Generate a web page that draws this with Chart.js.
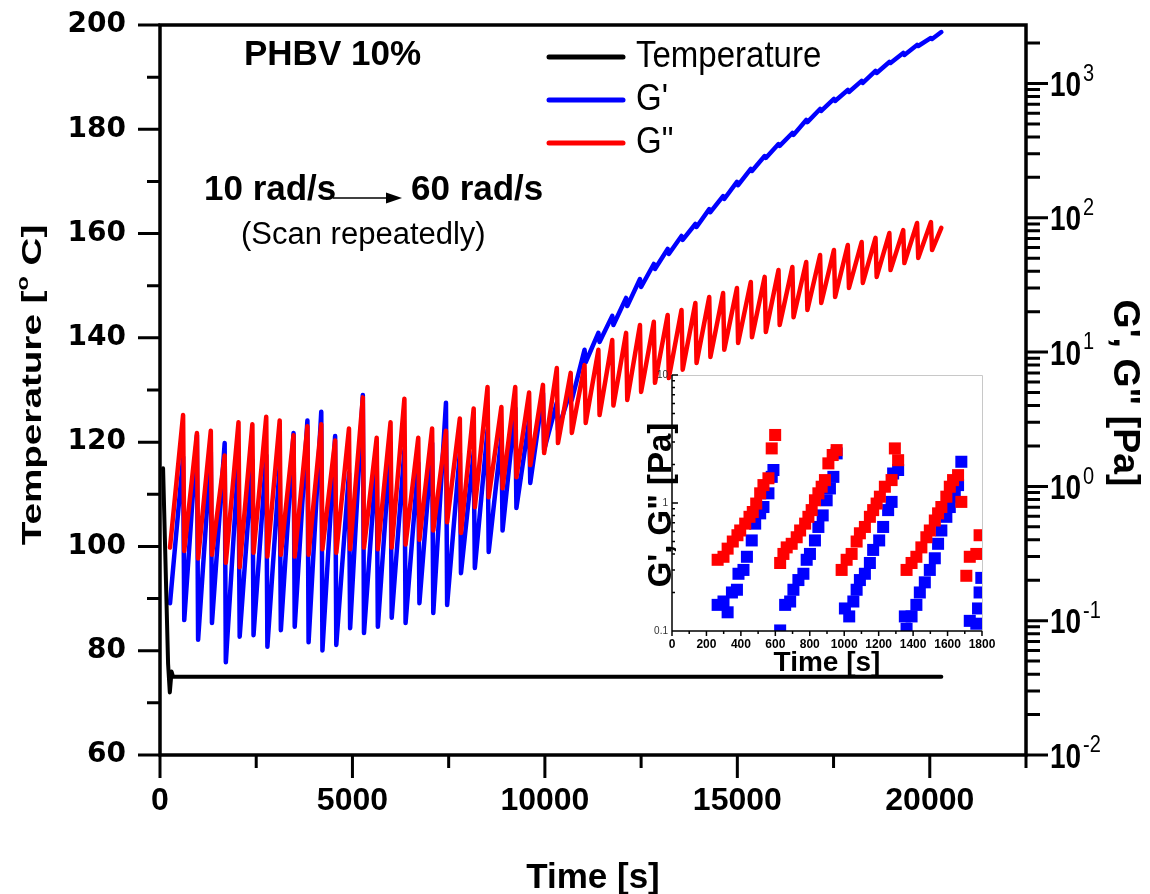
<!DOCTYPE html>
<html>
<head>
<meta charset="utf-8">
<script src="https://cdn.jsdelivr.net/npm/chart.js@4.4.1/dist/chart.umd.min.js"></script>
<style>
  html, body { margin: 0; padding: 0; background: #fff; }
  #wrap { position: relative; width: 1150px; height: 894px; overflow: hidden; }
  #mainChart { position: absolute; left: 0; top: 0; }
  #insetChart { position: absolute; left: 600px; top: 360px; }
</style>
</head>
<body>
<div id="wrap">
  <canvas id="mainChart" width="1150" height="894"></canvas>
  <canvas id="insetChart" width="400" height="330"></canvas>
</div>
<script>
// TEMPERATURE (left axis)
const tempT = [80, 210, 255, 300, 340, 20300];
const tempV = [115, 77.5, 72, 76, 75, 75];

// EACH FREQUENCY SCAN: start time (lowest value) and end time (highest value)
const cycleStart = [260, 630, 990, 1350, 1710, 2070, 2430, 2790, 3140, 3500, 3860, 4220, 4580, 4940, 5300, 5660, 6020, 6380, 6740, 7100,
  7460, 7820, 8180, 8540, 8900, 9260, 9620, 9980, 10340, 10700, 11060, 11420, 11780, 12140, 12500, 12860, 13220, 13580, 13940, 14300,
  14660, 15020, 15380, 15740, 16100, 16460, 16820, 17180, 17540, 17900, 18260, 18620, 18980, 19340, 19700, 20060];
const cycleEnd = [600, 960, 1320, 1680, 2040, 2400, 2760, 3110, 3470, 3830, 4190, 4550, 4910, 5270, 5630, 5990, 6350, 6710, 7070, 7430,
  7790, 8150, 8510, 8870, 9230, 9590, 9950, 10310, 10670, 11030, 11390, 11750, 12110, 12470, 12830, 13190, 13550, 13910, 14270, 14630,
  14990, 15350, 15710, 16070, 16430, 16790, 17150, 17510, 17870, 18230, 18590, 18950, 19310, 19670, 20030, 20300];

// G' (blue)
const gpLow = [0.135, 0.101, 0.072, 0.096, 0.049, 0.076, 0.078, 0.064, 0.085, 0.090, 0.069, 0.060, 0.066, 0.088, 0.081, 0.090, 0.105, 0.096, 0.135, 0.114,
  0.131, 0.226, 0.247, 0.325, 0.47, 0.69, 1.06,
  1.87, 2.63, 4.4, 8.4, 11.9, 15.9, 22.0, 30.5, 41.6, 53.7, 68.4, 85.4, 110, 138, 175, 223, 279, 343, 414, 516, 624, 741, 865, 1009, 1197, 1422, 1630, 1901, 2145];
const gpHigh = [1.66, 2.41, 1.8, 2.1, 1.63, 1.57, 1.71, 1.44, 2.5, 3.1, 3.6, 2.37, 1.26, 4.8, 1.71, 2.1, 1.87, 1.5, 2.1, 4.2,
  1.78, 1.8, 2.63, 2.33, 3.84, 3.1, 4.96,
  4.2, 5.2, 10.4, 13.9, 18.6, 25.3, 35.0, 45.3, 58.6, 73.2, 89.9, 116, 145, 185, 231, 288, 354, 428, 535, 646, 767, 895, 1045, 1240, 1446, 1686, 1936, 2183, 2416];

// G'' (red)
const gppLow = [0.35, 0.33, 0.29, 0.31, 0.27, 0.25, 0.32, 0.30, 0.31, 0.30, 0.31, 0.34, 0.32, 0.34, 0.35, 0.34, 0.35, 0.37, 0.40, 0.47,
  0.54, 0.45, 0.70, 0.83, 0.97, 1.17, 1.44, 1.77, 2.1, 2.5, 2.97, 3.4, 4.0, 4.4, 5.05, 5.9, 6.4, 7.4,
  8.3, 9.2, 10.4, 11.7, 12.9, 14.1, 15.9, 18.2, 20.6, 23.2, 25.7, 30, 32.7, 36.3, 40.8, 46, 50.2, 57.5];
const gppHigh = [3.4, 2.5, 2.6, 1.7, 3.0, 2.9, 3.3, 3.1, 2.4, 2.8, 2.9, 2.2, 2.7, 4.6, 2.3, 3.0, 4.5, 2.3, 2.7, 2.6,
  3.2, 3.8, 5.5, 3.9, 5.5, 5.0, 5.7, 7.6, 7.0, 8.0, 10.4, 12.3, 13.9, 15.9, 16.8, 18.9, 20.6, 23.2,
  25.7, 27.5, 30, 33.3, 36.3, 40.8, 43, 46.9, 52.8, 57.5, 62.7, 66, 70.8, 77, 81, 91.5, 93, 84];

// TICKS OF THE MAIN CHART
const xTickVals = [0, 5000, 10000, 15000, 20000];
const xMinorVals = [2500, 7500, 12500, 17500, 22500];
const leftTickVals = [60, 80, 100, 120, 140, 160, 180, 200];
const leftMinorVals = [70, 90, 110, 130, 150, 170, 190];
const rightDecades = [0.01, 0.1, 1, 10, 100, 1000];
const rightExp = ["-2", "-1", "0", "1", "2", "3"];

// INSET (first 1800 s)
const insetRedT = [265, 299, 323, 353, 380, 396, 425, 450, 469, 489, 512, 531, 560, 579, 599,
  628, 647, 666, 695, 724, 744, 773, 792, 811, 830, 850, 869, 888, 908, 933, 956,
  985, 1014, 1043, 1072, 1091, 1120, 1149, 1168, 1188, 1207, 1236, 1275, 1294, 1313,
  1362, 1391, 1419, 1448, 1477, 1497, 1526, 1545, 1564, 1593, 1613, 1632, 1661, 1680,
  1709, 1729, 1767, 1786];
const insetRedV = [0.36, 0.38, 0.44, 0.50, 0.56, 0.61, 0.69, 0.78, 0.85, 0.99, 1.19, 1.38, 1.56, 2.67, 3.4,
  0.34, 0.40, 0.45, 0.48, 0.54, 0.61, 0.69, 0.78, 0.88, 1.05, 1.19, 1.34, 1.51, 2.04, 2.37, 2.59,
  0.30, 0.36, 0.40, 0.50, 0.58, 0.65, 0.78, 0.88, 0.99, 1.12, 1.34, 1.51, 2.67, 2.16,
  0.30, 0.34, 0.38, 0.45, 0.54, 0.61, 0.73, 0.83, 0.93, 1.12, 1.34, 1.51, 1.65, 1.02,
  0.27, 0.38, 0.40, 0.56];
const insetBlueT = [265, 299, 323, 348, 377, 386, 415, 435, 463, 483, 512, 531, 560, 579, 589,
  628, 657, 686, 705, 734, 763, 782, 801, 830, 850, 875, 898, 917, 937, 956,
  1004, 1029, 1053, 1072, 1091, 1120, 1149, 1168, 1203, 1226, 1255, 1275, 1284, 1313,
  1352, 1362, 1391, 1419, 1439, 1468, 1497, 1526, 1545, 1564, 1593, 1613, 1642, 1661, 1680,
  1729, 1767, 1777, 1786, 1796];
const insetBlueV = [0.16, 0.17, 0.14, 0.20, 0.21, 0.28, 0.30, 0.38, 0.51, 0.69, 0.83, 0.93, 1.19, 1.60, 1.81,
  0.101, 0.16, 0.17, 0.21, 0.25, 0.28, 0.36, 0.40, 0.51, 0.65, 0.80, 1.05, 1.30, 1.60, 2.44,
  0.15, 0.13, 0.17, 0.21, 0.25, 0.28, 0.34, 0.43, 0.51, 0.65, 0.88, 1.02, 1.70, 1.81,
  0.13, 0.104, 0.13, 0.16, 0.20, 0.24, 0.30, 0.37, 0.48, 0.61, 0.78, 0.93, 1.12, 1.38, 2.10,
  0.12, 0.114, 0.15, 0.20, 0.26];
const insetXTicks = [0, 200, 400, 600, 800, 1000, 1200, 1400, 1600, 1800];
const insetYTicks = [0.1, 1, 10];

const FONT = "'Liberation Sans', Arial, sans-serif";

function sawPoints(lows, highs) {
  const pts = [];
  for (let i = 0; i < cycleStart.length; i++) {
    pts.push({ x: cycleStart[i], y: lows[i] });
    pts.push({ x: cycleEnd[i], y: highs[i] });
  }
  return pts;
}

function drawText(ctx, str, x, y, o) {
  ctx.save();
  ctx.font = o.font;
  ctx.fillStyle = o.color || "#000";
  ctx.textAlign = o.align || "left";
  ctx.textBaseline = o.baseline || "alphabetic";
  ctx.translate(x, y);
  if (o.rotate) ctx.rotate(o.rotate);
  ctx.scale(o.sx || 1, o.sy || 1);
  ctx.fillText(str, 0, 0);
  ctx.restore();
}

// text made of several runs (for superscripts), centred on (cx, cy)
function drawRuns(ctx, runs, cx, cy, rot, sx, sy) {
  ctx.save();
  ctx.translate(cx, cy);
  ctx.rotate(rot);
  ctx.scale(sx, sy);
  let total = 0;
  runs.forEach((r) => { ctx.font = r.font; r.w = ctx.measureText(r.t).width; total += r.w; });
  let x = -total / 2;
  ctx.textBaseline = "middle";
  ctx.textAlign = "left";
  ctx.fillStyle = "#000";
  runs.forEach((r) => { ctx.font = r.font; ctx.fillText(r.t, x, r.dy || 0); x += r.w; });
  ctx.restore();
}

const mainDecor = {
  id: "mainDecor",
  afterDraw(chart) {
    const ctx = chart.ctx;
    const { left, right, top, bottom } = chart.chartArea;
    const xs = chart.scales.x, yl = chart.scales.yL, yr = chart.scales.yR;
    ctx.save();
    ctx.strokeStyle = "#000";
    ctx.lineWidth = 3.5;
    ctx.strokeRect(left, top, right - left, bottom - top);

    ctx.lineWidth = 3;
    ctx.beginPath();
    leftTickVals.forEach((v) => { const y = yl.getPixelForValue(v); ctx.moveTo(left - 22, y); ctx.lineTo(left, y); });
    leftMinorVals.forEach((v) => { const y = yl.getPixelForValue(v); ctx.moveTo(left - 13, y); ctx.lineTo(left, y); });
    xTickVals.forEach((v) => { const x = xs.getPixelForValue(v); ctx.moveTo(x, bottom); ctx.lineTo(x, bottom + 23); });
    xMinorVals.forEach((v) => { const x = xs.getPixelForValue(v); ctx.moveTo(x, bottom); ctx.lineTo(x, bottom + 13); });
    rightDecades.forEach((d) => {
      const y = yr.getPixelForValue(d);
      ctx.moveTo(right, y); ctx.lineTo(right + 22, y);
      for (let m = 2; m <= 9; m++) {
        if (d * m > yr.max) break;
        const ym = yr.getPixelForValue(d * m);
        ctx.moveTo(right, ym); ctx.lineTo(right + 14, ym);
      }
    });
    ctx.stroke();

    // right axis labels 10^n
    rightDecades.forEach((d, i) => {
      const y = yr.getPixelForValue(d);
      drawText(ctx, "10", right + 24, y + 3, { font: "bold 28px " + FONT, baseline: "middle", sy: 1.25 });
      drawText(ctx, rightExp[i], right + 57, y - 9, { font: "20px " + FONT, baseline: "middle", sy: 1.15 });
    });

    // axis titles
    drawRuns(ctx, [
      { t: "Temperature [", font: "bold 28px " + FONT },
      { t: "o", font: "bold 17px " + FONT, dy: -10 },
      { t: " C]", font: "bold 28px " + FONT },
    ], 33, 385, -Math.PI / 2, 1.38, 1);
    drawRuns(ctx, [{ t: "G', G\" [Pa]", font: "bold 36px " + FONT }], 1124, 393, Math.PI / 2, 1.04, 1);
    drawText(ctx, "Time [s]", (left + right) / 2, 888, { font: "bold 35px " + FONT, align: "center" });

    // annotations
    drawText(ctx, "PHBV 10%", 244, 65, { font: "bold 35px " + FONT });
    drawText(ctx, "10 rad/s", 204, 200, { font: "bold 35px " + FONT });
    drawText(ctx, "60 rad/s", 411, 200, { font: "bold 35px " + FONT });
    drawText(ctx, "(Scan repeatedly)", 241, 244, { font: "31px " + FONT });
    ctx.lineWidth = 1.5;
    ctx.beginPath();
    ctx.moveTo(333, 198); ctx.lineTo(390, 198);
    ctx.stroke();
    ctx.fillStyle = "#000";
    ctx.beginPath();
    ctx.moveTo(402, 198); ctx.lineTo(386, 192.5); ctx.lineTo(386, 203.5); ctx.closePath();
    ctx.fill();

    // legend
    const legend = [["Temperature", "#000000", 57], ["G'", "#0000ff", 100], ["G\"", "#ff0000", 143]];
    legend.forEach(([name, col, y]) => {
      ctx.strokeStyle = col;
      ctx.lineWidth = 5;
      ctx.lineCap = "round";
      ctx.beginPath();
      ctx.moveTo(549, y); ctx.lineTo(623, y);
      ctx.stroke();
      drawText(ctx, name, 636, y, { font: "33px " + FONT, baseline: "middle", sy: 1.1 });
    });
    ctx.restore();
  },
};

const mainChart = new Chart(document.getElementById("mainChart"), {
  type: "line",
  data: {
    datasets: [
      { label: "Temperature", data: tempT.map((t, i) => ({ x: t, y: tempV[i] })), yAxisID: "yL",
        borderColor: "#000000", borderWidth: 4, pointRadius: 0, order: 0 },
      { label: "G'", data: sawPoints(gpLow, gpHigh), yAxisID: "yR",
        borderColor: "#0000ff", borderWidth: 4.5, pointRadius: 0, order: 2 },
      { label: "G\"", data: sawPoints(gppLow, gppHigh), yAxisID: "yR",
        borderColor: "#ff0000", borderWidth: 4.5, pointRadius: 0, order: 1 },
    ],
  },
  options: {
    responsive: false,
    animation: false,
    events: [],
    elements: { line: { tension: 0, borderCapStyle: "round", borderJoinStyle: "round" } },
    layout: { padding: { top: 0, left: 0, right: 0, bottom: 0 } },
    plugins: { legend: { display: false }, tooltip: { enabled: false } },
    scales: {
      x: {
        type: "linear", min: 0, max: 22500,
        afterBuildTicks: (s) => { s.ticks = xTickVals.map((v) => ({ value: v })); },
        afterFit: (s) => { s.height = 139; },
        grid: { display: false, drawTicks: false, tickLength: 0 },
        border: { display: false },
        ticks: { font: { family: FONT, size: 32, weight: "bold" }, color: "#000", padding: 27, maxRotation: 0, autoSkip: false,
          callback: (v) => String(v) },
      },
      yL: {
        type: "linear", position: "left", min: 60, max: 200,
        afterBuildTicks: (s) => { s.ticks = leftTickVals.map((v) => ({ value: v })); },
        afterFit: (s) => { s.width = 160; s.paddingTop = 25; s.paddingBottom = 0; },
        grid: { display: false, drawTicks: false, tickLength: 0 },
        border: { display: false },
        ticks: { font: { family: "'DejaVu Sans', sans-serif", size: 28, weight: "bold" }, color: "#000", padding: 34 },
      },
      yR: {
        type: "logarithmic", position: "right", min: 0.01, max: 2725,
        afterFit: (s) => { s.width = 124; s.paddingTop = 0; s.paddingBottom = 0; },
        grid: { display: false, drawTicks: false, tickLength: 0 },
        border: { display: false },
        ticks: { display: false },
      },
    },
  },
  plugins: [mainDecor],
});

// INSET CHART
const insetDecor = {
  id: "insetDecor",
  beforeDraw(chart) {
    const ctx = chart.ctx;
    const { left, right, top, bottom } = chart.chartArea;
    ctx.save();
    ctx.fillStyle = "#ffffff";
    ctx.fillRect(left, top, right - left, bottom - top);
    ctx.restore();
  },
  afterDraw(chart) {
    const ctx = chart.ctx;
    const { left, right, top, bottom } = chart.chartArea;
    const xs = chart.scales.x, ys = chart.scales.y;
    ctx.save();
    ctx.strokeStyle = "#c8c8c8";
    ctx.lineWidth = 1;
    ctx.beginPath();
    ctx.moveTo(left, top + 0.5); ctx.lineTo(right + 0.5, top + 0.5); ctx.lineTo(right + 0.5, bottom);
    ctx.stroke();
    ctx.strokeStyle = "#000";
    ctx.lineWidth = 1.5;
    ctx.beginPath();
    ctx.moveTo(left, top); ctx.lineTo(left, bottom); ctx.lineTo(right, bottom);
    insetYTicks.forEach((d) => {
      const y = ys.getPixelForValue(d);
      ctx.moveTo(left, y); ctx.lineTo(left + 6, y);
      if (d < 10) {
        for (let m = 2; m <= 9; m++) {
          const ym = ys.getPixelForValue(d * m);
          ctx.moveTo(left, ym); ctx.lineTo(left + 3, ym);
        }
      }
    });
    insetXTicks.forEach((v) => {
      const x = xs.getPixelForValue(v);
      ctx.moveTo(x, bottom); ctx.lineTo(x, bottom + 5);
      if (v < 1800) {
        const xm = xs.getPixelForValue(v + 100);
        ctx.moveTo(xm, bottom); ctx.lineTo(xm, bottom + 3);
      }
    });
    ctx.stroke();
    drawText(ctx, "Time [s]", (left + right) / 2, 311, { font: "bold 28px " + FONT, align: "center" });
    drawRuns(ctx, [{ t: "G', G\" [Pa]", font: "bold 33px " + FONT }], 62, 145, -Math.PI / 2, 1, 1);
    ctx.restore();
  },
};

const insetChart = new Chart(document.getElementById("insetChart"), {
  type: "scatter",
  data: {
    datasets: [
      { label: "G\"", data: insetRedT.map((t, i) => ({ x: t, y: insetRedV[i] })),
        backgroundColor: "#ff0000", borderColor: "#ff0000", borderWidth: 0,
        pointStyle: "rect", pointRadius: 8.5, clip: 0, order: 0 },
      { label: "G'", data: insetBlueT.map((t, i) => ({ x: t, y: insetBlueV[i] })),
        backgroundColor: "#0000ff", borderColor: "#0000ff", borderWidth: 0,
        pointStyle: "rect", pointRadius: 8.5, clip: 0, order: 1 },
    ],
  },
  options: {
    responsive: false,
    animation: false,
    events: [],
    layout: { padding: { top: 0, right: 18, left: 0, bottom: 0 } },
    plugins: { legend: { display: false }, tooltip: { enabled: false } },
    scales: {
      x: {
        type: "linear", min: 0, max: 1800,
        afterBuildTicks: (s) => { s.ticks = insetXTicks.map((v) => ({ value: v })); },
        afterFit: (s) => { s.height = 59; s.paddingRight = 0; s.paddingLeft = 0; },
        grid: { display: false, drawTicks: false, tickLength: 0 },
        border: { display: false },
        ticks: { font: { family: FONT, size: 12, weight: "bold" }, color: "#000", padding: 6, maxRotation: 0, autoSkip: false,
          callback: (v) => String(v) },
      },
      y: {
        type: "logarithmic", min: 0.1, max: 10,
        afterBuildTicks: (s) => { s.ticks = insetYTicks.map((v) => ({ value: v })); },
        afterFit: (s) => { s.width = 72; s.paddingTop = 15; s.paddingBottom = 0; },
        grid: { display: false, drawTicks: false, tickLength: 0 },
        border: { display: false },
        ticks: { font: { family: FONT, size: 10 }, color: "#333", padding: 4, callback: (v) => String(v) },
      },
    },
  },
  plugins: [insetDecor],
});
</script>
</body>
</html>
